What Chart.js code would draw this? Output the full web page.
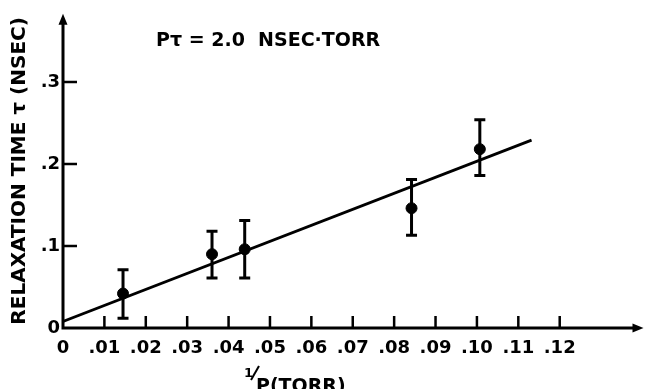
<!DOCTYPE html>
<html>
<head>
<meta charset="utf-8">
<script src="https://cdn.jsdelivr.net/npm/chart.js@4/dist/chart.umd.min.js"></script>
<style>
  html, body { margin: 0; padding: 0; background: #fff; }
  #wrap { width: 649px; height: 389px; position: relative; }
</style>
</head>
<body>
<div id="wrap"><canvas id="c" width="649" height="389"></canvas></div>
<script>
// ---- data ----
const pointsX   = [0.0145, 0.0360, 0.0439, 0.0842, 0.1007];
const pointsY   = [0.042, 0.090, 0.096, 0.146, 0.218];
const errLow    = [0.012, 0.061, 0.061, 0.113, 0.186];
const errHigh   = [0.071, 0.118, 0.131, 0.181, 0.254];
const fitX      = [0.0, 0.1132];
const fitY      = [0.008, 0.229];
const xTickValues = [0, 0.01, 0.02, 0.03, 0.04, 0.05, 0.06, 0.07, 0.08, 0.09, 0.10, 0.11, 0.12];
const xTickLabels = ['0', '.01', '.02', '.03', '.04', '.05', '.06', '.07', '.08', '.09', '.10', '.11', '.12'];
const yTickValues = [0, 0.1, 0.2, 0.3];
const yTickLabels = ['0', '.1', '.2', '.3'];
const yTitle = 'RELAXATION TIME \u03C4 (NSEC)';
const annotation = 'P\u03C4 = 2.0  NSEC\u00B7TORR';
const xTitleNum = '1';
const xTitleRest = 'P(TORR)';

const FONT = '"DejaVu Sans", sans-serif';
const INK = '#000';

const decorPlugin = {
  id: 'decor',
  afterDatasetsDraw(chart) {
    const ctx = chart.ctx;
    const xs = chart.scales.x, ys = chart.scales.y;
    const x0 = xs.getPixelForValue(0), y0 = ys.getPixelForValue(0);
    ctx.save();
    ctx.strokeStyle = INK; ctx.fillStyle = INK;
    ctx.lineCap = 'butt';
    // error bars
    ctx.lineWidth = 3;
    for (let i = 0; i < pointsX.length; i++) {
      const px = xs.getPixelForValue(pointsX[i]);
      const pl = ys.getPixelForValue(errLow[i]);
      const ph = ys.getPixelForValue(errHigh[i]);
      ctx.beginPath();
      ctx.moveTo(px, pl); ctx.lineTo(px, ph);
      ctx.moveTo(px - 5.5, pl); ctx.lineTo(px + 5.5, pl);
      ctx.moveTo(px - 5.5, ph); ctx.lineTo(px + 5.5, ph);
      ctx.stroke();
    }
    // axes
    ctx.lineWidth = 3;
    const top = chart.chartArea.top, right = chart.chartArea.right;
    ctx.beginPath();
    ctx.moveTo(x0, y0 + 1.5); ctx.lineTo(x0, top + 8);
    ctx.moveTo(x0 - 1.5, y0); ctx.lineTo(right - 8, y0);
    ctx.stroke();
    // arrow heads
    ctx.beginPath();
    ctx.moveTo(x0, top); ctx.lineTo(x0 - 4.5, top + 11); ctx.lineTo(x0 + 4.5, top + 11); ctx.closePath();
    ctx.fill();
    ctx.beginPath();
    ctx.moveTo(right + 1, y0); ctx.lineTo(right - 10, y0 - 4.5); ctx.lineTo(right - 10, y0 + 4.5); ctx.closePath();
    ctx.fill();
    // inward tick marks
    ctx.lineWidth = 2.5;
    ctx.beginPath();
    xTickValues.forEach(v => {
      if (v === 0) return;
      const px = xs.getPixelForValue(v);
      ctx.moveTo(px, y0); ctx.lineTo(px, y0 - 12);
    });
    yTickValues.forEach(v => {
      if (v === 0) return;
      const py = ys.getPixelForValue(v);
      ctx.moveTo(x0, py); ctx.lineTo(x0 + 14, py);
    });
    ctx.stroke();
    // annotation
    ctx.font = 'bold 19px ' + FONT;
    ctx.textBaseline = 'middle'; ctx.textAlign = 'left';
    ctx.fillText(annotation, 156, 41);
    // x title
    ctx.font = 'bold 13px ' + FONT;
    ctx.textBaseline = 'alphabetic';
    ctx.fillText(xTitleNum, 244, 377);
    ctx.lineWidth = 2;
    ctx.beginPath(); ctx.moveTo(251, 380); ctx.lineTo(259, 366); ctx.stroke();
    ctx.font = 'bold 19px ' + FONT;
    ctx.fillText(xTitleRest, 256, 392);
    ctx.restore();
  }
};

new Chart(document.getElementById('c'), {
  type: 'scatter',
  data: {
    datasets: [
      {
        label: 'fit',
        data: fitX.map((x, i) => ({ x: x, y: fitY[i] })),
        showLine: true,
        borderColor: INK,
        borderWidth: 2.8,
        pointRadius: 0,
        order: 2
      },
      {
        label: 'data',
        data: pointsX.map((x, i) => ({ x: x, y: pointsY[i] })),
        backgroundColor: INK,
        borderColor: INK,
        pointRadius: 5.5,
        order: 1
      }
    ]
  },
  options: {
    responsive: false,
    animation: false,
    devicePixelRatio: 1,
    layout: { padding: { top: 10, right: 2, left: 0, bottom: 0 } },
    plugins: { legend: { display: false }, tooltip: { enabled: false }, title: { display: false } },
    scales: {
      x: {
        type: 'linear', min: 0, max: 0.14,
        afterBuildTicks: s => { s.ticks = xTickValues.map(v => ({ value: v })); },
        afterFit: s => { s.height = 61; },
        grid: { display: false, drawTicks: false },
        border: { display: false },
        ticks: {
          autoSkip: false, maxRotation: 0, padding: 10, color: INK,
          font: { family: FONT, size: 18, weight: 'bold' },
          callback: (v, i) => xTickLabels[i]
        }
      },
      y: {
        type: 'linear', min: 0, max: 0.383,
        afterBuildTicks: s => { s.ticks = yTickValues.map(v => ({ value: v })); },
        afterFit: s => { s.width = 63; },
        grid: { display: false, drawTicks: false },
        border: { display: false },
        title: {
          display: true, text: yTitle, color: INK,
          font: { family: FONT, size: 20, weight: 'bold' },
          padding: { top: 8, bottom: 0 }
        },
        ticks: {
          autoSkip: false, padding: 3, color: INK,
          font: { family: FONT, size: 18, weight: 'bold' },
          callback: (v, i) => yTickLabels[i]
        }
      }
    }
  },
  plugins: [decorPlugin]
});
</script>
</body>
</html>
